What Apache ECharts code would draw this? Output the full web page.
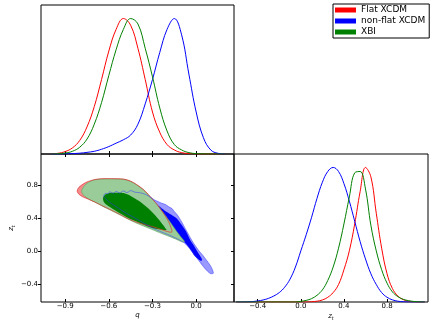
<!DOCTYPE html>
<html>
<head>
<meta charset="utf-8">
<script src="https://cdn.jsdelivr.net/npm/echarts@6/dist/echarts.min.js"></script>
<style>
  html, body { margin: 0; padding: 0; background: #fff; }
  #main { width: 436px; height: 327px; }
</style>
</head>
<body>
<div id="main"></div>
<script>
  // marginal posterior of q (peak normalised to 1)
  const qGrid = [-1.00, -0.95, -0.90, -0.85, -0.80, -0.75, -0.70, -0.65, -0.60, -0.55, -0.50, -0.45, -0.40,
    -0.35, -0.30, -0.25, -0.20, -0.15, -0.10, -0.05, 0.00, 0.05, 0.10, 0.15, 0.20];
  const qFlat = [0.001, 0.005, 0.018, 0.045, 0.10, 0.20, 0.35, 0.55, 0.76, 0.92, 1.00, 0.95, 0.78,
    0.55, 0.31, 0.16, 0.07, 0.03, 0.01, 0.003, 0.001, 0, 0, 0, 0];
  const qNonFlat = [0, 0, 0.001, 0.003, 0.006, 0.012, 0.02, 0.035, 0.055, 0.08, 0.105, 0.14, 0.22,
    0.37, 0.55, 0.75, 0.92, 1.00, 0.88, 0.59, 0.31, 0.12, 0.03, 0.005, 0];
  const qXBI = [0, 0.002, 0.007, 0.02, 0.05, 0.11, 0.22, 0.38, 0.58, 0.77, 0.92, 1.00, 0.96,
    0.78, 0.57, 0.34, 0.17, 0.07, 0.03, 0.01, 0.003, 0.001, 0, 0, 0];

  // marginal posterior of z_t
  const ztGrid = [-0.60, -0.55, -0.50, -0.45, -0.40, -0.35, -0.30, -0.25, -0.20, -0.15, -0.10, -0.05,
    0.00, 0.05, 0.10, 0.15, 0.20, 0.25, 0.30, 0.35, 0.40, 0.45, 0.50, 0.55, 0.60, 0.65, 0.70, 0.75,
    0.80, 0.85, 0.90, 0.95, 1.00, 1.05, 1.10, 1.15];
  const ztFlat = [0, 0, 0, 0, 0, 0, 0, 0, 0, 0, 0, 0,
    0, 0, 0.002, 0.006, 0.015, 0.035, 0.07, 0.13, 0.24, 0.38, 0.58, 0.82, 1.00, 0.93, 0.66, 0.40,
    0.21, 0.10, 0.045, 0.018, 0.006, 0.001, 0, 0];
  const ztNonFlat = [0, 0, 0.001, 0.003, 0.008, 0.015, 0.027, 0.045, 0.07, 0.11, 0.17, 0.26,
    0.38, 0.50, 0.63, 0.77, 0.89, 0.97, 1.00, 0.97, 0.88, 0.75, 0.60, 0.45, 0.32, 0.21, 0.13, 0.07,
    0.035, 0.016, 0.006, 0.002, 0, 0, 0, 0];
  const ztXBI = [0, 0, 0, 0, 0, 0, 0, 0, 0, 0, 0, 0,
    0.005, 0.012, 0.025, 0.05, 0.09, 0.16, 0.26, 0.40, 0.58, 0.78, 0.96, 0.97, 0.84, 0.57, 0.38, 0.24,
    0.14, 0.075, 0.04, 0.02, 0.01, 0.004, 0.001, 0];

  // 2D credible regions, vertices as [q, z_t]
  const flatOuter = [[-0.817, 0.725], [-0.81, 0.765], [-0.785, 0.805], [-0.75, 0.84], [-0.70, 0.868],
    [-0.65, 0.879], [-0.58, 0.88], [-0.50, 0.875], [-0.45, 0.85], [-0.41, 0.81], [-0.36, 0.745],
    [-0.318, 0.667], [-0.28, 0.59], [-0.249, 0.52], [-0.21, 0.42], [-0.185, 0.34], [-0.17, 0.27],
    [-0.166, 0.235], [-0.18, 0.228], [-0.22, 0.25], [-0.272, 0.282], [-0.34, 0.315], [-0.409, 0.35],
    [-0.47, 0.395], [-0.524, 0.445], [-0.58, 0.495], [-0.639, 0.545], [-0.69, 0.59], [-0.74, 0.63],
    [-0.78, 0.66], [-0.805, 0.69]];
  const xbiOuter = [[-0.787, 0.735], [-0.77, 0.79], [-0.74, 0.835], [-0.70, 0.865], [-0.65, 0.876],
    [-0.58, 0.877], [-0.50, 0.872], [-0.45, 0.845], [-0.41, 0.806], [-0.36, 0.74], [-0.318, 0.663],
    [-0.28, 0.59], [-0.249, 0.521], [-0.21, 0.43], [-0.181, 0.358], [-0.15, 0.28], [-0.124, 0.216],
    [-0.10, 0.16], [-0.08, 0.115], [-0.095, 0.11], [-0.14, 0.145], [-0.181, 0.175], [-0.24, 0.215],
    [-0.295, 0.256], [-0.35, 0.296], [-0.409, 0.338], [-0.47, 0.39], [-0.524, 0.44], [-0.58, 0.49],
    [-0.639, 0.541], [-0.69, 0.59], [-0.73, 0.625], [-0.765, 0.665], [-0.782, 0.70]];
  const xbiInner = [[-0.64, 0.645], [-0.625, 0.685], [-0.593, 0.705], [-0.54, 0.708], [-0.50, 0.705],
    [-0.45, 0.67], [-0.387, 0.602], [-0.34, 0.535], [-0.295, 0.46], [-0.26, 0.39], [-0.227, 0.317],
    [-0.21, 0.275], [-0.203, 0.256], [-0.22, 0.255], [-0.295, 0.277], [-0.35, 0.31], [-0.409, 0.358],
    [-0.47, 0.405], [-0.524, 0.46], [-0.575, 0.515], [-0.615, 0.562], [-0.635, 0.60]];
  const nonFlatOuter = [[-0.635, 0.665], [-0.625, 0.70], [-0.605, 0.695], [-0.595, 0.72], [-0.57, 0.70],
    [-0.55, 0.725], [-0.525, 0.705], [-0.50, 0.73], [-0.475, 0.71], [-0.45, 0.735], [-0.42, 0.715],
    [-0.39, 0.71], [-0.35, 0.69], [-0.31, 0.65], [-0.285, 0.62], [-0.26, 0.60], [-0.235, 0.58],
    [-0.21, 0.565], [-0.19, 0.54], [-0.165, 0.515], [-0.15, 0.48], [-0.13, 0.44], [-0.115, 0.40],
    [-0.095, 0.34], [-0.08, 0.29], [-0.055, 0.21], [-0.035, 0.145], [-0.01, 0.075], [0.02, 0.0],
    [0.045, -0.05], [0.07, -0.11], [0.095, -0.17], [0.11, -0.22], [0.118, -0.27], [0.10, -0.275],
    [0.08, -0.25], [0.05, -0.19], [0.02, -0.12], [-0.01, -0.05], [-0.045, 0.03], [-0.078, 0.094],
    [-0.12, 0.14], [-0.18, 0.19], [-0.25, 0.24], [-0.31, 0.29], [-0.37, 0.35], [-0.43, 0.41],
    [-0.49, 0.47], [-0.55, 0.54], [-0.60, 0.60]];
  const nonFlatInner = [[-0.60, 0.66], [-0.56, 0.69], [-0.50, 0.70], [-0.44, 0.68], [-0.38, 0.64],
    [-0.32, 0.60], [-0.26, 0.55], [-0.215, 0.49], [-0.17, 0.44], [-0.13, 0.39], [-0.10, 0.32],
    [-0.07, 0.24], [-0.04, 0.13], [-0.01, 0.05], [0.02, -0.04], [0.04, -0.10], [0.035, -0.12],
    [0.015, -0.10], [-0.01, -0.06], [-0.04, 0.02], [-0.076, 0.10], [-0.11, 0.15], [-0.16, 0.20],
    [-0.22, 0.255], [-0.28, 0.31], [-0.35, 0.37], [-0.42, 0.44], [-0.49, 0.51], [-0.55, 0.58]];

  const qTicks = [-0.9, -0.6, -0.3, 0.0];
  const ztTicks = [-0.4, 0.0, 0.4, 0.8];

  const FONT = 'DejaVu Sans';
  const fmt = v => (v < 0 ? '\u2212' : '') + Math.abs(v).toFixed(1);
  const zip = (xs, ys) => xs.map((x, i) => [x, ys[i]]);

  function curve(name, color, xs, ys, axis) {
    return {
      name: name,
      type: 'line',
      xAxisIndex: axis,
      yAxisIndex: axis === 0 ? 0 : 3,
      data: zip(xs, ys),
      smooth: 0.4,
      showSymbol: false,
      symbol: 'none',
      itemStyle: { color: color },
      lineStyle: { color: color, width: 1 },
      silent: true,
    };
  }

  function region(name, pts, fill, stroke, width, z) {
    return {
      name: name,
      type: 'custom',
      xAxisIndex: 1,
      yAxisIndex: 1,
      z: z,
      silent: true,
      clip: true,
      data: pts,
      renderItem(params, api) {
        if (params.dataIndex !== 0) return null;
        return {
          type: 'polygon',
          shape: { points: pts.map(p => api.coord(p)), smooth: 0.25 },
          style: { fill: fill || 'none', stroke: stroke || 'none', lineWidth: width || 0 },
        };
      },
    };
  }

  const ztName = '{z|z}{t|t}';
  const nameRich = {
    z: { fontFamily: FONT, fontStyle: 'italic', fontSize: 7, color: '#000' },
    t: { fontFamily: FONT, fontStyle: 'italic', fontSize: 5, color: '#000', padding: [4, 0, 0, 0] },
  };
  const hidden = { show: false };
  const noLine = { show: false, onZero: false };
  const tickStyle = { color: '#000', width: 1 };

  const myChart = echarts.init(document.getElementById('main'));
  myChart.setOption({
    animation: false,
    backgroundColor: '#fff',
    grid: [
      { left: 41, top: 5, width: 193, height: 149, show: true, borderColor: '#000', borderWidth: 1 },
      { left: 41, top: 154, width: 193, height: 148, show: true, borderColor: '#000', borderWidth: 1 },
      { left: 234, top: 154, width: 194, height: 148, show: true, borderColor: '#000', borderWidth: 1 },
    ],
    xAxis: [
      {
        gridIndex: 0, type: 'value', min: -1.066, max: 0.26,
        axisLine: noLine, splitLine: hidden, axisLabel: hidden,
        axisTick: { show: true, inside: true, length: 3, customValues: qTicks, lineStyle: tickStyle },
      },
      {
        gridIndex: 1, type: 'value', min: -1.066, max: 0.26,
        axisLine: noLine, splitLine: hidden,
        axisTick: { show: true, inside: true, length: 3, customValues: qTicks, lineStyle: tickStyle },
        axisLabel: { customValues: qTicks, formatter: fmt, fontFamily: FONT, fontSize: 7, color: '#000', margin: 1 },
        name: 'q', nameLocation: 'middle', nameGap: 10,
        nameTextStyle: { fontFamily: FONT, fontStyle: 'italic', fontSize: 7, color: '#000' },
      },
      {
        gridIndex: 1, type: 'value', position: 'top', min: -1.066, max: 0.26,
        axisLine: noLine, splitLine: hidden, axisLabel: hidden,
        axisTick: { show: true, inside: true, length: 3, customValues: qTicks, lineStyle: tickStyle },
      },
      {
        gridIndex: 2, type: 'value', min: -0.62, max: 1.18,
        axisLine: noLine, splitLine: hidden,
        axisTick: { show: true, inside: true, length: 3, customValues: ztTicks, lineStyle: tickStyle },
        axisLabel: { customValues: ztTicks, formatter: fmt, fontFamily: FONT, fontSize: 7, color: '#000', margin: 1 },
        name: ztName, nameLocation: 'middle', nameGap: 10,
        nameTextStyle: { rich: nameRich },
      },
    ],
    yAxis: [
      {
        gridIndex: 0, type: 'value', min: 0, max: 1.1,
        axisLine: noLine, splitLine: hidden, axisLabel: hidden, axisTick: hidden,
      },
      {
        gridIndex: 1, type: 'value', min: -0.62, max: 1.18,
        axisLine: noLine, splitLine: hidden,
        axisTick: { show: true, length: 3, customValues: ztTicks, lineStyle: tickStyle },
        axisLabel: { customValues: ztTicks, formatter: fmt, fontFamily: FONT, fontSize: 7, color: '#000', margin: 3 },
        name: ztName, nameLocation: 'middle', nameGap: 25,
        nameTextStyle: { rich: nameRich },
      },
      {
        gridIndex: 1, type: 'value', position: 'right', min: -0.62, max: 1.18,
        axisLine: noLine, splitLine: hidden, axisLabel: hidden,
        axisTick: { show: true, inside: true, length: 3, customValues: ztTicks, lineStyle: tickStyle },
      },
      {
        gridIndex: 2, type: 'value', min: 0, max: 1.1,
        axisLine: noLine, splitLine: hidden, axisLabel: hidden, axisTick: hidden,
      },
    ],
    legend: {
      left: 333, top: 4, orient: 'vertical', icon: 'rect',
      itemWidth: 21, itemHeight: 5, itemGap: 1,
      padding: [1, 4, 1, 2],
      borderColor: '#000', borderWidth: 1, backgroundColor: '#fff',
      textStyle: { fontFamily: FONT, fontSize: 9, color: '#000', lineHeight: 10 },
      data: [
        { name: 'Flat XCDM', itemStyle: { color: '#ff0000' } },
        { name: 'non-flat XCDM', itemStyle: { color: '#0000ff' } },
        { name: 'XBI', itemStyle: { color: '#008000' } },
      ],
      selectedMode: false,
    },
    series: [
      curve('Flat XCDM', '#ff0000', qGrid, qFlat, 0),
      curve('non-flat XCDM', '#0000ff', qGrid, qNonFlat, 0),
      curve('XBI', '#008000', qGrid, qXBI, 0),
      curve('Flat XCDM', '#ff0000', ztGrid, ztFlat, 3),
      curve('non-flat XCDM', '#0000ff', ztGrid, ztNonFlat, 3),
      curve('XBI', '#008000', ztGrid, ztXBI, 3),
      region('flatFill', flatOuter, '#f48c8c', null, 0, 2),
      region('nonFlatFill', nonFlatOuter, '#9999ff', null, 0, 3),
      region('nonFlatCore', nonFlatInner, '#0000ff', null, 0, 4),
      region('xbiFill', xbiOuter, '#99cc99', '#5aa85a', 0.6, 5),
      region('xbiCore', xbiInner, '#008000', null, 0, 6),
      region('flatLine', flatOuter, null, '#e03030', 0.7, 7),
      region('nonFlatLine', nonFlatOuter, null, '#3333ff', 0.5, 8),
    ],
  });
</script>
</body>
</html>
